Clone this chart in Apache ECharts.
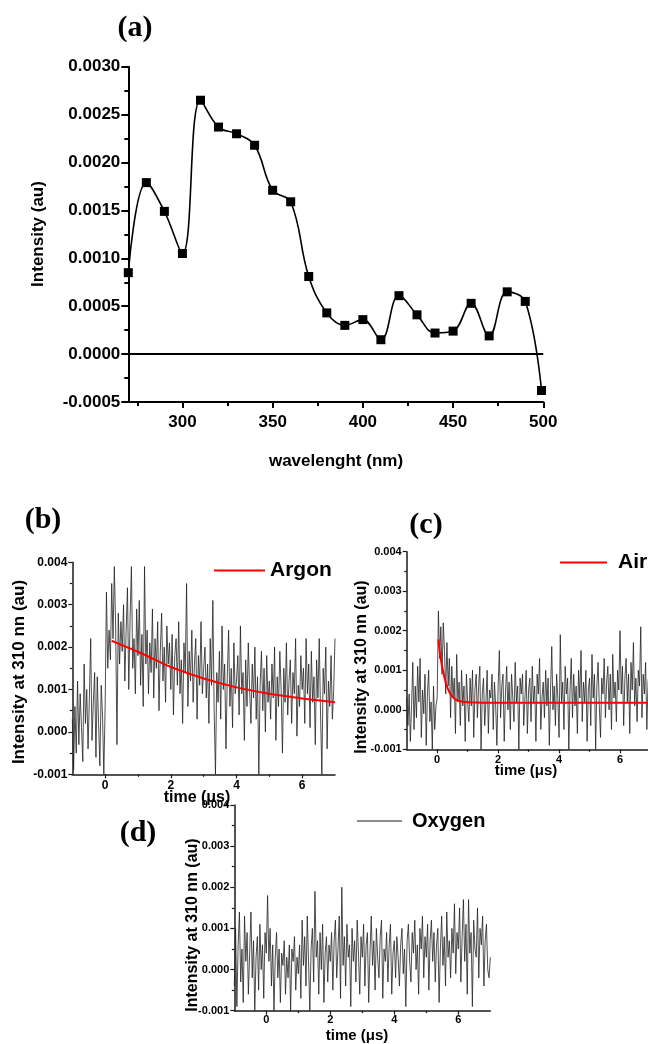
<!DOCTYPE html>
<html><head><meta charset="utf-8">
<script src="https://cdn.jsdelivr.net/npm/echarts@6/dist/echarts.min.js"></script>
<style>html,body{margin:0;padding:0;background:#fff}#c{width:648px;height:1044px}</style>
</head><body><div id="c"></div>
<script>
// ---------- panel (a) ----------
const wavelength = [270,280,290,300,310,320,330,340,350,360,370,380,390,400,410,420,430,440,450,460,470,480,490,499];
const intensity = [0.00085,0.00179,0.00149,0.00105,0.00265,0.00237,0.0023,0.00218,0.00171,0.00159,0.00081,0.00043,0.0003,0.00036,0.00015,0.00061,0.00041,0.00022,0.00024,0.00053,0.00019,0.00065,0.00055,-0.00038];
const aMajorTicks = [300,350,400,450,500];
const aMinorTicks = [275,325,375,425,475];

// ---------- panels (b)(c)(d): transient traces ----------
const timeStart = -1, timeStep = 0.04;
const argonSignal = [
0.0003,-0.0009,0.0006,-0.0005,0.0012,-0.0003,0.0009,0.0001,-0.0007,0.0016,0.0002,0.001,-0.0004,0.0008,0.0022,-0.0002,0.0007,0.0014,-0.0006,0.0013,0.0002,-0.0008,0.0011,0.0004,-0.001,0.0006,
0.0033,0.0015,0.0024,0.0017,0.0035,0.0022,0.0039,0.0025,-0.0003,0.0028,0.0016,0.0026,0.0019,0.003,0.0012,0.0024,0.0034,0.001,0.0027,0.0039,0.0015,0.0022,0.0009,0.0029,0.0018,
0.0031,0.0011,0.0023,0.0006,0.0039,0.0016,0.0024,0.0009,0.0021,0.0014,0.0029,0.0008,0.0022,0.0015,0.0026,0.0005,0.0019,0.0028,0.0012,0.002,0.0007,0.0025,0.0016,0.0021,0.001,
0.0023,0.0004,0.0018,0.0022,0.0011,0.0026,0.0009,0.0017,0.0002,0.0021,0.0014,0.0035,0.0006,0.0019,0.0012,0.0024,0.0007,0.0016,0.0022,0.0003,0.0018,0.0011,0.0026,0.0009,0.0015,
0.002,0.0008,0.0016,0.0002,0.0022,0.0011,0.0031,0.0005,-0.001,0.0014,0.0007,0.0019,0.0003,0.0025,0.001,0.0016,-0.0004,0.0013,0.0024,0.0006,0.0015,0.0001,0.0021,0.0009,0.0012,
0.0018,0.0004,0.0025,0.0009,0.0014,-0.0002,0.0017,0.0006,0.0021,0.001,0.0002,0.0016,0.0008,0.002,0.0003,0.0013,-0.001,0.0011,0.0019,0.0005,0.0015,0,0.0018,0.0007,0.0012,
0.0003,0.0016,0.0008,0.002,-0.0002,0.0013,0.0006,0.0019,0.001,-0.0005,0.0015,0.0007,0.0021,0.0004,0.0012,0.0017,0.0002,0.0014,0.0009,0.0022,-0.0001,0.0011,0.0006,0.0018,0.001,
0.0015,0.0002,0.0022,0.0009,0.0016,0.0001,0.0019,0.0007,0.0013,-0.0003,0.0017,0.0008,0.0022,0.0004,-0.001,0.0015,0.0009,0.002,-0.0004,0.0012,0.0006,0.0018,0.0003,0.001,0.0022];
const argonFitTime = [0.2,0.5,1,1.5,2,3,4,5,6,7];
const argonFitValue = [0.00215,0.00205,0.00189,0.00171,0.00153,0.00126,0.00105,0.0009,0.00079,0.0007];

const airSignal = [
0.0003,-0.0004,0.0004,-0.0008,0.0001,0.0012,-0.0005,0.0006,-0.0002,0.0011,0.0002,0.0013,-0.0007,0.0005,-0.0001,0.0009,-0.0009,0.0004,0.001,-0.0003,0.0002,-0.001,0.0006,-0.0005,0.0001,0.0003,
0.0025,0.0013,0.0021,0.0009,0.0022,0.0015,0.0004,0.0017,0.0006,0.0013,-0.0002,0.0011,0.0003,0.0008,-0.0006,0.0014,0.0002,0.0007,-0.0004,0.001,0.0001,0.0006,-0.0008,0.0009,0.0002,
-0.0003,0.0008,0.0001,0.001,-0.0007,0.0005,0.0009,-0.0002,0.0006,0.0011,-0.001,0.0004,0.0008,-0.0004,0.0002,0.001,-0.0006,0.0005,0.0003,0.0009,-0.0005,0.0007,0.0001,-0.0009,0.0006,
0.0015,-0.0002,0.0006,0.0009,-0.0008,0.0004,0.0011,0,0.0007,-0.0005,0.0009,0.0003,-0.0003,0.0012,0.0002,0.0006,-0.001,0.0008,0.0004,0.0009,-0.0004,0.0003,0.001,-0.0006,0.0005,
0.0008,-0.0003,0.0011,0.0002,0.0006,-0.0008,0.0009,0.0004,0.0013,-0.0005,0.0003,0.0007,-0.0002,0.001,0.0001,0.0008,-0.0009,0.0005,0.0016,0,0.0006,-0.0004,0.0009,0.0003,-0.0007,
0.0019,0.0002,0.0007,-0.0005,0.0011,0.0004,0.0008,-0.001,0.0005,0.0013,-0.0002,0.0009,0.0001,0.0006,-0.0006,0.001,0.0003,0.0015,-0.0003,0.0007,0.0002,0.001,-0.0008,0.0005,0.0008,
-0.0004,0.0014,0.0003,0.0009,-0.001,0.0006,0.0012,0.0001,-0.0007,0.0008,0.0004,0.0013,-0.0002,0.0007,0.0011,0,0.0009,-0.0005,0.0014,0.0003,0.0007,-0.0003,0.001,0.0005,0.002,
0.0004,0.0011,-0.0004,0.0008,0.0013,0.0002,0.0009,-0.0006,0.0012,0.0005,0.0017,0.0001,0.0008,-0.0003,0.001,0.0006,0.0021,-0.0002,0.0009,0.0004,0.0012,-0.0005,0.0007,0.001,0.0003];
const airFitTime = [0.04,0.1,0.2,0.3,0.4,0.5,0.6,0.8,1,1.5,7];
const airFitValue = [0.00178,0.00138,0.00095,0.00064,0.00045,0.00033,0.00026,0.00021,0.00019,0.00018,0.00018];

const oxygenSignal = [
-0.0004,0.001,-0.0009,0.0006,0.0014,-0.0003,0.0005,-0.0008,0.0013,0.0002,0.0009,-0.0006,0.0004,0.0014,-0.0002,0.0007,-0.001,0.0003,0.0008,-0.0005,0.0011,0,0.0006,-0.0007,0.0009,0.0004,
0.0018,0.0002,0.001,-0.0004,0.0006,-0.001,0.0003,0.0009,-0.0002,0.0005,-0.0008,0.0004,0.0001,0.0007,-0.0006,0.0003,-0.0002,0.0006,-0.001,0.0005,0.0002,0.0008,-0.0005,0.0003,-0.0001,
0.0006,-0.0007,0.0012,0.0001,0.0008,-0.0004,0.0013,0.0002,-0.001,0.0005,0.001,-0.0003,0.0019,0.0003,0.0007,-0.0006,0.0009,0,0.0011,-0.0008,0.0004,0.0008,-0.0003,0.0006,0.0002,
0.0009,-0.0005,0.0007,0.0012,-0.0002,0.0005,0.0013,-0.0007,0.002,0.0001,0.0008,-0.0004,0.0011,0.0003,0.0006,-0.0009,0.001,0.0002,0.0007,-0.0003,0.0012,0.0004,-0.0006,0.0008,0.0003,
0.0011,-0.0004,0.0006,0.0009,-0.0008,0.0004,0.0013,0.0001,0.0007,-0.0005,0.001,0.0003,-0.0002,0.0008,0.0012,-0.0007,0.0005,0.0002,0.0009,-0.0003,0.0006,0.0011,-0.0006,0.0004,0.0007,
-0.0002,0.0008,0.0003,-0.0004,0.0006,0.001,-0.0001,0.0005,-0.0009,0.0007,0.0011,0.0002,-0.0003,0.0009,0.0004,0.0012,0,0.0006,-0.0006,0.001,0.0005,0.0013,-0.0002,0.0008,0.0003,
0.0011,-0.0005,0.0007,0.0012,0.0002,0.0009,-0.0003,0.0006,0.001,-0.0008,0.0005,0.0013,0.0001,0.0008,-0.0004,0.0014,0.0003,0.0007,-0.0002,0.001,0.0004,0.0016,-0.0001,0.0009,0.0005,
0.0015,-0.0003,0.0008,0.0017,0.0002,0.0011,-0.0006,0.0017,0.0004,0.0009,-0.0009,0.0012,0.0005,0.0003,0.0015,-0.0002,0.001,0.0006,0.0013,-0.0004,0.0007,0.0011,0,-0.0002,0.0003];

const tMajorTicks = [0,2,4,6];
const tMinorTicks = [1,3,5];

// ---------- helpers ----------
const SANS = 'Liberation Sans';
function withTime(sig){ return sig.map((v,i)=>[+(timeStart + i*timeStep).toFixed(2), v]); }
function pairs(xs, ys){ return xs.map((x,i)=>[x, ys[i]]); }

function timeAxes(grid, fontSize, margin){
  return [{
    gridIndex: grid, type:'value', min:-1, max:7, position:'bottom',
    axisLine:{onZero:false, lineStyle:{color:'#1a1a1a', width:1.5}},
    axisTick:{customValues:tMajorTicks, length:4, lineStyle:{color:'#1a1a1a', width:1.2}},
    axisLabel:{customValues:tMajorTicks, fontSize, fontWeight:'bold', fontFamily:SANS, color:'#000', margin},
    splitLine:{show:false}
  },{
    gridIndex: grid, type:'value', min:-1, max:7, position:'bottom',
    axisLine:{show:false, onZero:false},
    axisTick:{customValues:tMinorTicks, length:2.5, lineStyle:{color:'#1a1a1a', width:1.2}},
    axisLabel:{show:false}, splitLine:{show:false}
  }];
}
function signalYAxis(grid, fontSize){
  return {
    gridIndex: grid, type:'value', min:-0.001, max:0.004, interval:0.001, position:'left',
    axisLine:{show:true, onZero:false, lineStyle:{color:'#1a1a1a', width:1.5}},
    axisTick:{show:true, length:4, lineStyle:{color:'#1a1a1a', width:1.2}},
    minorTick:{show:true, splitNumber:2, length:2.5, lineStyle:{color:'#1a1a1a', width:1.2}},
    axisLabel:{fontSize, fontWeight:'bold', fontFamily:SANS, color:'#000', margin:5,
      formatter:v=>v.toFixed(3)},
    splitLine:{show:false}
  };
}
function txt(text, x, y, font, rot){
  return {type:'text', x, y, rotation: rot||0, silent:true,
    style:{text, font, fill:'#000', align:'center', verticalAlign:'middle', textAlign:'center', textVerticalAlign:'middle'}};
}

const chart = echarts.init(document.getElementById('c'), null, {renderer:'canvas'});
chart.setOption({
  animation:false,
  backgroundColor:'#fff',
  grid:[
    {left:128.3, top:66.7, width:415, height:335.3, outerBoundsMode:'none'},
    {left:72.3, top:562.3, width:262.7, height:212, outerBoundsMode:'none'},
    {left:406.7, top:551.7, width:243.8, height:197.6, outerBoundsMode:'none'},
    {left:234.3, top:805, width:256, height:205.7, outerBoundsMode:'none'}
  ],
  xAxis:[
    {gridIndex:0, type:'value', min:270, max:500, position:'bottom',
     axisLine:{onZero:false, lineStyle:{color:'#000', width:2}},
     axisTick:{customValues:aMajorTicks, length:6, lineStyle:{color:'#000', width:2}},
     axisLabel:{customValues:aMajorTicks, fontSize:17, fontWeight:'bold', fontFamily:SANS, color:'#000', margin:12},
     splitLine:{show:false}},
    {gridIndex:0, type:'value', min:270, max:500, position:'bottom',
     axisLine:{show:false, onZero:false},
     axisTick:{customValues:aMinorTicks, length:4, lineStyle:{color:'#000', width:2}},
     axisLabel:{show:false}, splitLine:{show:false}},
    ...timeAxes(1, 12, 5),
    ...timeAxes(2, 11, 5),
    ...timeAxes(3, 11, 4)
  ],
  yAxis:[
    {gridIndex:0, type:'value', min:-0.0005, max:0.003, interval:0.0005, position:'left',
     axisLine:{show:true, onZero:false, lineStyle:{color:'#000', width:2}},
     axisTick:{show:true, length:7, lineStyle:{color:'#000', width:2}},
     minorTick:{show:true, splitNumber:2, length:4, lineStyle:{color:'#000', width:2}},
     axisLabel:{fontSize:17, fontWeight:'bold', fontFamily:SANS, color:'#000', margin:8,
       formatter:v=>v.toFixed(4)},
     splitLine:{show:false}},
    signalYAxis(1, 12),
    signalYAxis(2, 11),
    signalYAxis(3, 11)
  ],
  legend:[
    {data:['Argon'], left:214, top:560, itemWidth:51, itemHeight:2, icon:'rect', padding:0, selectedMode:false,
     textStyle:{fontSize:21, fontWeight:'bold', fontFamily:SANS, color:'#000'}},
    {data:['Air'], left:560, top:552, itemWidth:47, itemHeight:2, icon:'rect', padding:0, selectedMode:false,
     textStyle:{fontSize:21, fontWeight:'bold', fontFamily:SANS, color:'#000', padding:[0,0,0,6]}},
    {data:[{name:'Oxygen', itemStyle:{color:'#666'}}], left:357, top:811, itemWidth:45, itemHeight:1.5, icon:'rect', padding:0, selectedMode:false,
     textStyle:{fontSize:20, fontWeight:'bold', fontFamily:SANS, color:'#000', padding:[0,0,0,5]}}
  ],
  graphic:[
    txt('(a)', 135, 28, 'bold 30px "Liberation Serif"'),
    txt('(b)', 43, 520, 'bold 30px "Liberation Serif"'),
    txt('(c)', 426, 525, 'bold 30px "Liberation Serif"'),
    txt('(d)', 138, 833, 'bold 30px "Liberation Serif"'),
    txt('Intensity (au)', 38, 234, 'bold 17px "Liberation Sans"', Math.PI/2),
    txt('wavelenght (nm)', 336, 461, 'bold 17px "Liberation Sans"'),
    txt('Intensity at 310 nn (au)', 19, 672, 'bold 17px "Liberation Sans"', Math.PI/2),
    txt('time (μs)', 197, 798, 'bold 16px "Liberation Sans"'),
    txt('Intensity at 310 nn (au)', 362, 667, 'bold 16px "Liberation Sans"', Math.PI/2),
    txt('time (μs)', 526, 771, 'bold 15px "Liberation Sans"'),
    txt('Intensity at 310 nn (au)', 193, 925, 'bold 16px "Liberation Sans"', Math.PI/2),
    txt('time (μs)', 357, 1036, 'bold 15px "Liberation Sans"')
  ],
  series:[
    {name:'Spectrum', type:'line', xAxisIndex:0, yAxisIndex:0, data:pairs(wavelength, intensity),
     smooth:0.4, symbol:'rect', symbolSize:9, showSymbol:true,
     lineStyle:{color:'#000', width:1.6}, itemStyle:{color:'#000'}, z:3,
     markLine:{silent:true, symbol:'none', label:{show:false}, animation:false,
       lineStyle:{color:'#000', width:2, type:'solid'}, data:[{yAxis:0}]}},
    {name:'Argon signal', type:'line', xAxisIndex:2, yAxisIndex:1, data:withTime(argonSignal),
     symbol:'none', lineStyle:{color:'#222', width:0.8}, itemStyle:{color:'#222'}},
    {name:'Argon', type:'line', xAxisIndex:2, yAxisIndex:1, data:pairs(argonFitTime, argonFitValue),
     smooth:0.3, symbol:'none', lineStyle:{color:'#ff0000', width:2}, itemStyle:{color:'#ff0000'}, z:4},
    {name:'Air signal', type:'line', xAxisIndex:4, yAxisIndex:2, data:withTime(airSignal),
     symbol:'none', lineStyle:{color:'#222', width:0.8}, itemStyle:{color:'#222'}},
    {name:'Air', type:'line', xAxisIndex:4, yAxisIndex:2, data:pairs(airFitTime, airFitValue),
     smooth:0.3, symbol:'none', lineStyle:{color:'#ff0000', width:2}, itemStyle:{color:'#ff0000'}, z:4},
    {name:'Oxygen', type:'line', xAxisIndex:6, yAxisIndex:3, data:withTime(oxygenSignal),
     symbol:'none', lineStyle:{color:'#222', width:0.8}, itemStyle:{color:'#222'}}
  ]
});
</script></body></html>
